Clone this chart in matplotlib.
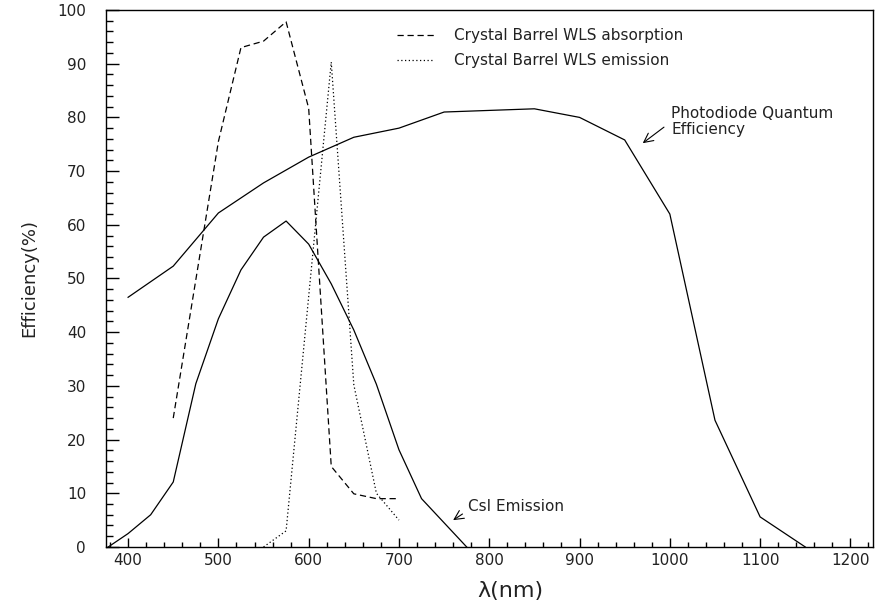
import numpy as np
import matplotlib
matplotlib.use("Agg")
import matplotlib.pyplot as plt
from matplotlib.ticker import MultipleLocator

# ---------- data ----------
# photodiode quantum efficiency (solid)
pd_nm = [400, 450, 500, 550, 600, 650, 700, 750, 850, 900, 950, 1000, 1050, 1100, 1150]
pd_eff = [46.5, 52.3, 62.2, 67.8, 72.6, 76.3, 78.0, 81.0, 81.6, 80.0, 75.8, 62.0, 23.6, 5.6, 0.0]

# CsI emission (solid)
csi_nm = [378, 400, 425, 450, 475, 500, 525, 550, 575, 600, 625, 650, 675, 700, 725, 775]
csi_eff = [0.0, 2.5, 6.0, 12.1, 30.4, 42.5, 51.6, 57.7, 60.7, 56.4, 49.0, 40.4, 30.3, 18.1, 9.0, 0.0]

# Crystal Barrel WLS absorption (dashed)
abs_nm = [450, 500, 525, 550, 575, 600, 625, 650, 675, 700]
abs_eff = [24.0, 75.5, 93.0, 94.2, 97.8, 81.7, 15.0, 9.9, 9.0, 9.0]

# Crystal Barrel WLS emission (dotted)
em_nm = [550, 575, 625, 650, 675, 700]
em_eff = [0.0, 3.0, 90.3, 30.2, 10.0, 5.0]

X_LIM = (375, 1225)
Y_LIM = (0, 100)
X_TICKS = [400, 500, 600, 700, 800, 900, 1000, 1100, 1200]
Y_TICKS = [0, 10, 20, 30, 40, 50, 60, 70, 80, 90, 100]

plt.rcParams['font.family'] = ['DejaVu Sans']
TXT = "#222222"

fig = plt.figure(figsize=(8.75, 6.06), dpi=100)
ax = fig.add_axes([0.1206, 0.0974, 0.8771, 0.8861])

lw = 0.9
ax.plot(pd_nm, pd_eff, color="black", lw=lw, solid_joinstyle="miter")
ax.plot(csi_nm, csi_eff, color="black", lw=lw)
l_abs, = ax.plot(abs_nm, abs_eff, color="black", lw=lw, dashes=(5, 3),
                 label="Crystal Barrel WLS absorption")
l_em, = ax.plot(em_nm, em_eff, color="black", lw=lw, dashes=(1, 2),
                label="Crystal Barrel WLS emission")

ax.set_xlim(*X_LIM)
ax.set_ylim(*Y_LIM)
ax.set_xticks(X_TICKS)
ax.set_yticks(Y_TICKS)
ax.xaxis.set_minor_locator(MultipleLocator(20))
ax.yaxis.set_minor_locator(MultipleLocator(2))

ax.tick_params(axis="x", which="major", direction="in", length=6.7, width=1.0,
               labelsize=11, pad=4, labelcolor=TXT)
ax.tick_params(axis="x", which="minor", direction="in", length=3.6, width=1.0)
ax.tick_params(axis="y", which="major", direction="in", length=9.6, width=1.0,
               labelsize=11, pad=14, labelcolor=TXT)
ax.tick_params(axis="y", which="minor", direction="in", length=4.8, width=1.0)
for s in ax.spines.values():
    s.set_linewidth(1.0)

ax.set_xlabel("λ(nm)", fontsize=16, color=TXT)
ax.xaxis.set_label_coords(0.528, -0.063)
ax.set_ylabel("Efficiency(%)", fontsize=13, color=TXT)
ax.yaxis.set_label_coords(-0.088, 0.5)

ax.legend(handles=[l_abs, l_em], loc="upper left", bbox_to_anchor=(0.380, 0.966),
          frameon=False, fontsize=11, handlelength=2.4, handletextpad=1.3,
          labelspacing=0.65, borderpad=0, borderaxespad=0, labelcolor=TXT)

ax.annotate("Photodiode Quantum\nEfficiency", xy=(970, 75.2), xytext=(1001.5, 79.2),
            ha="left", va="center", fontsize=11, color=TXT, linespacing=1.1,
            arrowprops=dict(arrowstyle="->,head_length=0.6,head_width=0.3",
                            color="black", lw=0.8, relpos=(0, 0.5),
                            shrinkA=4, shrinkB=0))
ax.annotate("CsI Emission", xy=(760, 5.0), xytext=(776, 7.6),
            ha="left", va="center", fontsize=11, color=TXT,
            arrowprops=dict(arrowstyle="->,head_length=0.6,head_width=0.3",
                            color="black", lw=0.8, relpos=(0, 0.2),
                            shrinkA=2, shrinkB=0))

fig.savefig("out.png", dpi=100)
